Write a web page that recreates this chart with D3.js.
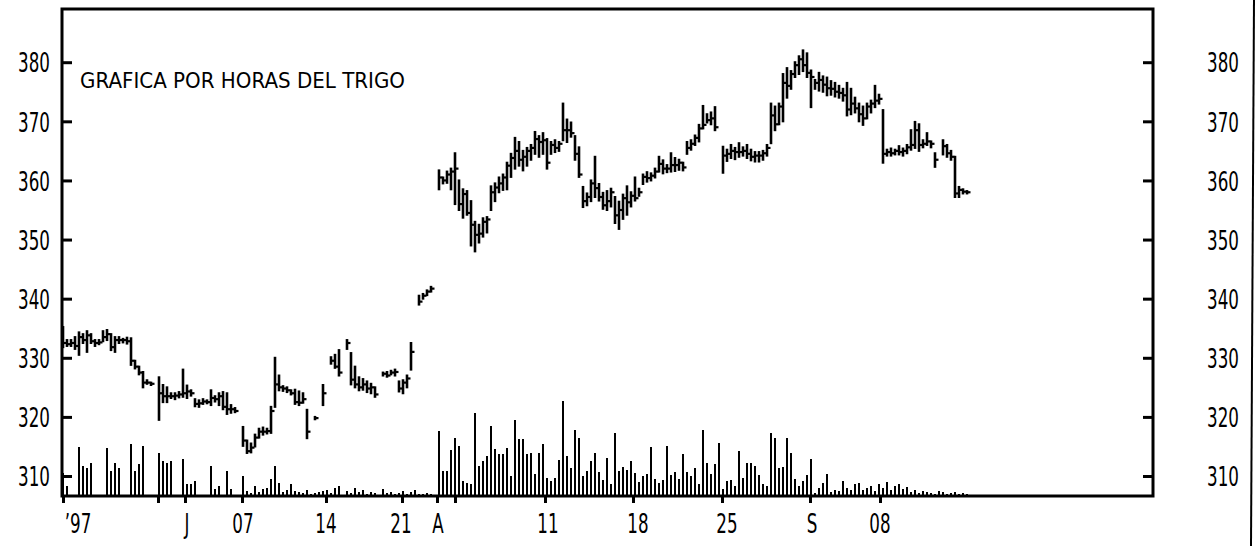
<!DOCTYPE html>
<html>
<head>
<meta charset="utf-8">
<script src="https://cdn.jsdelivr.net/npm/d3@7"></script>
<style>
body { margin: 0; background: white; }
text { font-family: "DejaVu Sans", sans-serif; fill: #000; }
</style>
</head>
<body>
<div id="chart"></div>
<script>
var svgWidth = 1257
var svgHeight = 546
var plotLeft = 62, plotRight = 1153, plotTop = 9, plotBottom = 496
var squeeze = 0.62

// hourly bars, one slot per hour, null = no trade printed
var high = [
	335.2, 333, 333, 333.5, 334.3, 334, 334.5, 334, 333, 333,
	334.5, 334.7, 334, 333.5, 333.5, 333.2, 333.4, 333.3, 329.5, 328.5,
	327.6, 326.2, 325.8, null, 326.7, 325.4, 325, 324, 324, 324.2,
	328, 325.3, 324.5, 323, 322.8, 323, 322.8, 324.5, 323.5, 324,
	324.2, 324, 322, 321.5, null, 318.3, 316, 315.5, 317, 318,
	318.2, 318, 321.7, 330, 327, 325.2, 325, 324.5, 324.6, 324.3,
	324, 321.2, null, 320, null, 325.4, null, 330.1, 330.5, 331.3,
	null, 333, 330.8, 328.5, 326.7, 326.4, 326, 325.6, 325, null,
	327.5, 327.6, 327.8, 328, 326, 326.2, 327, 332.5, null, 340.5,
	340.8, 341.4, 342, null, 361.7, 360.5, 361.5, 362, 364.6, 360,
	358.5, 358.2, 356.5, 353, 352.5, 353.6, 353.8, 359, 359.5, 360.5,
	361, 363, 364.5, 367.2, 366.5, 365, 365.5, 366, 368.2, 367.5,
	368, 367, 366.5, 366.8, 366.5, 373, 370.3, 369.8, 367.5, 365.6,
	358.9, 357.8, 360, 364, 359.4, 357.9, 358.2, 358.6, 357.2, 356.4,
	357.6, 359, 358, 360.5, 358.6, 361, 361.4, 361.2, 362, 364,
	363.4, 362.6, 364.6, 363.8, 363.5, 363, 366.5, 366.8, 367.6, 369.4,
	372.6, 371.2, 371.5, 372.4, null, 365.7, 365.2, 366, 365.5, 366.3,
	365.6, 366, 365.2, 364.8, 364.8, 365, 366, 373, 372.5, 373,
	378, 379, 378.5, 380, 381, 382, 381.5, 378.6, 377, 378.2,
	377.6, 377.4, 376.8, 376.5, 376, 375.5, 376.5, 375.5, 374, 373,
	372.5, 373, 373.5, 376, 374.5, 371.9, 365.2, 365.4, 365.2, 365.8,
	365.4, 366, 368.5, 369.9, 369.5, 366.8, 368, 366.6, 364.6, null,
	366.8, 366, 365, 364, 358.9, 358.5, 358.2]

var low = [
	331.8, 332, 332, 331.5, 330.5, 332.5, 331, 332.5, 332, 332.3,
	332.8, 333, 331.3, 331, 332.5, 332.6, 332.4, 328.8, 328.2, 327.2,
	325, 325.6, 325.4, null, 319.5, 322.5, 322.5, 323.2, 323, 323.3,
	323.4, 323.2, 323.6, 321.8, 321.7, 322.2, 322.3, 322, 322.6, 322,
	321.3, 320.5, 320.7, 320.8, null, 315.1, 313.9, 314, 315, 316.5,
	317, 317.2, 317.3, 321.7, 324.5, 324.4, 324.2, 323.8, 322.2, 322,
	322.4, 316.4, null, 319.6, null, 322, null, 329, 328.3, 327,
	null, 331.5, 325.5, 325, 324.5, 324.6, 324.2, 324, 323.4, null,
	327, 326.8, 327.2, 327, 324.3, 324, 325, 328, null, 339,
	340, 340.6, 341.2, null, 358.5, 359.5, 359.6, 358.5, 356, 355,
	353.7, 354.2, 349, 348, 349.5, 350.5, 351.2, 355, 356.5, 358,
	358.4, 358.5, 360.6, 362, 362.5, 361.7, 362.5, 363.5, 364.5, 364,
	364.5, 362, 364.5, 364.8, 365, 366.8, 366.5, 367.4, 363.5, 360.6,
	355.5, 355.8, 356.5, 357.2, 356.6, 355.2, 355, 355.6, 352.8, 351.8,
	353.5, 354.2, 355.6, 356.6, 357.4, 359.4, 359.8, 360, 360.5, 361.5,
	361.2, 361.4, 361.5, 361.6, 361.8, 361.7, 364.5, 365.2, 366, 366.6,
	368.8, 369.8, 369.5, 368.5, null, 361.3, 363.3, 363.8, 363.6, 364,
	364.2, 363.8, 363.4, 363.2, 363.2, 363.5, 364.2, 366.3, 368.5, 369.5,
	370, 374, 375.5, 377.5, 378, 378.5, 377.5, 372.4, 375.5, 375.2,
	375, 374.4, 374.5, 374.2, 374, 373.5, 371, 371.2, 371.5, 370,
	369.4, 370.5, 371.5, 372.4, 373, 363, 364.2, 364.2, 364.4, 364.4,
	364.2, 364.6, 365.2, 365.5, 365, 365.6, 366, 365.6, 362.3, null,
	364.4, 364, 363.5, 357.2, 357.2, 357.8, 357.8]

var close = [
	332.5, 332.3, 332.5, 332, 333.5, 333, 333.8, 332.8, 332.5, 332.6,
	333.5, 334, 331.8, 333, 333, 333, 332.8, 329.5, 328.5, 327.5,
	325.8, 325.8, 325.6, null, 324, 323.5, 323.5, 323.5, 323.6, 323.8,
	324, 324.3, 324, 322.2, 322.3, 322.6, 322.5, 323.2, 323, 323.5,
	321.7, 321.3, 321.3, 321, null, 316, 314.2, 314.8, 316.5, 317.5,
	317.5, 317.6, 321, 325.5, 325, 324.8, 324.5, 324, 322.5, 322.4,
	323, 317.5, null, 319.8, null, 324, null, 329.5, 328.5, 327.5,
	null, 332.5, 326.3, 325.5, 325, 325.5, 324.8, 325, 323.8, null,
	327.3, 327, 327.5, 327.6, 324.8, 325.8, 326.5, 331, null, 339.5,
	340.5, 341.2, 341.7, null, 360.5, 360, 361, 361.5, 362, 356,
	357.7, 354.5, 352.5, 350.8, 351, 353, 353.4, 358, 358.8, 359.5,
	360.5, 362.5, 363.8, 365, 363.5, 364, 365, 365.5, 367, 366.5,
	366.8, 363, 366, 365.5, 366.2, 368.5, 368.5, 368, 364.5, 361,
	356.5, 357.2, 359.5, 358.7, 357.2, 355.8, 356.5, 358, 354.1, 355,
	357, 356.3, 357.4, 357, 358, 360.6, 360.4, 360.8, 361.5, 362.8,
	362, 362, 362.6, 362.6, 363, 362.2, 365.5, 366.2, 367.2, 368.8,
	369.4, 370.2, 370.5, 369, null, 364.2, 364.5, 365, 364.8, 364.8,
	365, 364.5, 364, 364.2, 364.2, 364.6, 365.5, 371, 369.5, 372.5,
	376.5, 376, 378, 379.5, 380.5, 379.5, 378.2, 377.5, 376.5, 377,
	376.2, 375.6, 375.5, 375, 374.8, 374.4, 372, 373, 372.2, 371.2,
	370.5, 372.5, 373, 373.5, 373.8, 364.5, 364.8, 364.6, 365, 364.8,
	365, 365.6, 366, 368.5, 366, 366.2, 366.6, 366.2, 363.5, null,
	365.8, 364.6, 364, 357.8, 358.4, 358.1, 358]

var volume = [
	23, 10, 0, 0, 49, 30, 28, 33, 0, 0,
	0, 48, 25, 33, 28, 0, 0, 52, 25, 32,
	50, 0, 0, 0, 43, 35, 33, 35, 0, 0,
	37, 12, 12, 15, 0, 0, 0, 30, 7, 10,
	0, 25, 7, 0, 0, 20, 5, 3, 10, 4,
	7, 8, 17, 30, 13, 4, 6, 12, 5, 4,
	3, 6, 2, 3, 4, 5, 6, 3, 8, 10,
	0, 5, 3, 8, 4, 6, 2, 4, 3, 0,
	7, 3, 4, 2, 3, 5, 2, 4, 6, 2,
	2, 3, 2, 0, 65, 25, 25, 46, 58, 50,
	15, 13, 12, 83, 30, 35, 40, 70, 47, 42,
	42, 48, 20, 76, 57, 57, 42, 43, 22, 43,
	52, 18, 15, 18, 36, 95, 40, 28, 66, 58,
	20, 25, 35, 43, 24, 16, 38, 12, 63, 25,
	29, 26, 35, 23, 14, 20, 22, 49, 17, 13,
	16, 50, 21, 24, 17, 42, 24, 20, 28, 12,
	66, 33, 22, 32, 53, 7, 15, 16, 10, 45,
	18, 33, 33, 30, 21, 12, 10, 63, 58, 28,
	29, 58, 43, 17, 10, 15, 21, 37, 3, 8,
	13, 22, 4, 6, 5, 15, 8, 6, 12, 13,
	6, 8, 10, 5, 12, 8, 14, 6, 10, 12,
	7, 9, 4, 6, 3, 5, 4, 3, 2, 5,
	4, 2, 3, 4, 2, 3, 2]

var yTicks = [310, 320, 330, 340, 350, 360, 370, 380]
var xTickSlots = [0, 23.75, 30.5, 44.75, 65.75, 84.75, 93.5, 98, 120.5, 142.5, 164.75, 186.75, 204.25]
var xLabelSlots = [3.75, 31, 45, 65.75, 84.5, 93.75, 121.25, 143.75, 166, 187.25, 204.25]
var xLabels = ["\u201997", "J", "07", "14", "21", "A", "11", "18", "25", "S", "08"]
var title = "GRAFICA POR HORAS DEL TRIGO"

var svg = d3.select("#chart")
	.append("svg")
	.attr("width", svgWidth)
	.attr("height", svgHeight)
	.style("background-color", "white")

var xScale = d3.scaleLinear().domain([-0.25, 272.5]).range([plotLeft, plotRight])
var yScale = d3.scaleLinear().domain([306.62, 389]).range([plotBottom, plotTop])
var volScale = d3.scaleLinear().domain([0, 100]).range([plotBottom, plotBottom - 100])

var slots = d3.range(high.length)
var priceSlots = slots.filter(function(i){return high[i] !== null})
var volSlots = slots.filter(function(i){return volume[i] > 0})

// volume
svg.append("g")
	.attr("id", "volume")
	.selectAll("line")
	.data(volSlots)
	.enter()
	.append("line")
	.attr("x1", function(i){return xScale(i)})
	.attr("x2", function(i){return xScale(i)})
	.attr("y1", volScale(0))
	.attr("y2", function(i){return volScale(volume[i])})
	.attr("stroke", "#000")
	.attr("stroke-width", 2)

// price bars
var barsGroup = svg.append("g").attr("id", "bars")
barsGroup.selectAll("line.hl")
	.data(priceSlots)
	.enter()
	.append("line")
	.attr("class", "hl")
	.attr("x1", function(i){return xScale(i)})
	.attr("x2", function(i){return xScale(i)})
	.attr("y1", function(i){return yScale(low[i]) + 1})
	.attr("y2", function(i){return yScale(high[i]) - 1})
	.attr("stroke", "#000")
	.attr("stroke-width", 2.6)
barsGroup.selectAll("line.cl")
	.data(priceSlots)
	.enter()
	.append("line")
	.attr("class", "cl")
	.attr("x1", function(i){return xScale(i)})
	.attr("x2", function(i){return xScale(i) + 3.5})
	.attr("y1", function(i){return yScale(close[i])})
	.attr("y2", function(i){return yScale(close[i])})
	.attr("stroke", "#000")
	.attr("stroke-width", 2.2)

// frame
svg.append("rect")
	.attr("x", plotLeft)
	.attr("y", plotTop)
	.attr("width", plotRight - plotLeft)
	.attr("height", plotBottom - plotTop)
	.attr("fill", "none")
	.attr("stroke", "#000")
	.attr("stroke-width", 3)

var styleAxis = function(g, xShift) {
	g.select(".domain").remove()
	g.attr("font-size", null).attr("font-family", null)
	g.selectAll(".tick line").attr("stroke", "#000").attr("stroke-width", 3)
	g.selectAll(".tick text")
		.attr("x", xShift / squeeze)
		.attr("transform", "scale(" + squeeze + ",1)")
		.attr("dy", "0.36em")
		.style("font-size", "27px")
		.attr("fill", "#000")
}

var leftAxis = svg.append("g")
	.attr("transform", "translate(" + plotLeft + ",0)")
	.call(d3.axisLeft(yScale).tickValues(yTicks).tickSize(-10).tickPadding(12).tickFormat(d3.format("d")))
styleAxis(leftAxis, -12)

var rightAxis = svg.append("g")
	.attr("transform", "translate(" + plotRight + ",0)")
	.call(d3.axisRight(yScale).tickValues(yTicks).tickSize(-10).tickPadding(54).tickFormat(d3.format("d")))
styleAxis(rightAxis, 54)

var bottomAxis = svg.append("g")
	.attr("transform", "translate(0," + plotBottom + ")")
	.call(d3.axisBottom(xScale).tickValues(xTickSlots).tickSize(7).tickFormat(""))
bottomAxis.select(".domain").remove()
bottomAxis.selectAll(".tick line").attr("stroke", "#000").attr("stroke-width", 3)

svg.append("g")
	.attr("id", "x-labels")
	.selectAll("g")
	.data(xLabels)
	.enter()
	.append("g")
	.attr("transform", function(d, i){return "translate(" + xScale(xLabelSlots[i]) + ",533) scale(" + squeeze + ",1)"})
	.append("text")
	.attr("text-anchor", "middle")
	.style("font-size", "27px")
	.text(function(d){return d})

svg.append("text")
	.attr("x", 80)
	.attr("y", 88)
	.attr("textLength", 325)
	.attr("lengthAdjust", "spacingAndGlyphs")
	.style("font-size", "22px")
	.text(title)

// page edge of the scan
svg.append("line")
	.attr("x1", 1254).attr("y1", 0)
	.attr("x2", 1251).attr("y2", svgHeight)
	.attr("stroke", "#000")
	.attr("stroke-width", 2)
</script>
</body>
</html>
